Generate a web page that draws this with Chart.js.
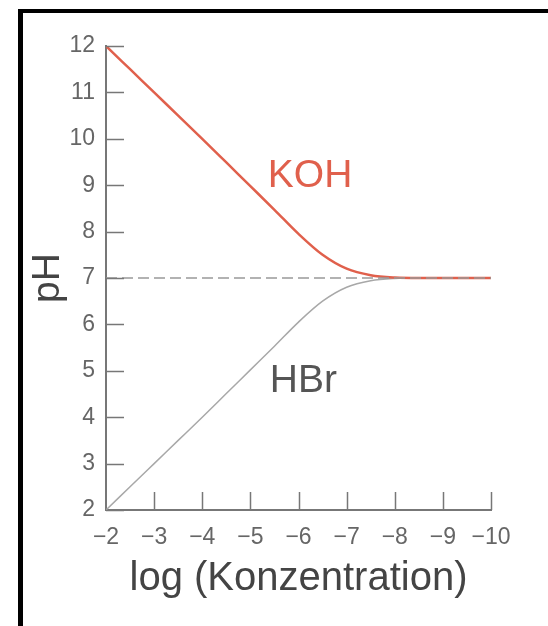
<!DOCTYPE html>
<html>
<head>
<meta charset="utf-8">
<script src="https://cdn.jsdelivr.net/npm/chart.js@4/dist/chart.umd.min.js"></script>
<style>
  html, body { margin: 0; padding: 0; background: #fff; }
  #wrap { position: relative; width: 548px; height: 626px; overflow: hidden; }
  #frameLeft { position: absolute; left: 18px; top: 9px; width: 5px; height: 617px; background: #000; }
  #frameTop { position: absolute; left: 18px; top: 9px; width: 530px; height: 4px; background: #000; }
</style>
</head>
<body>
<div id="wrap">
  <canvas id="phChart" width="548" height="626"></canvas>
  <div id="frameLeft"></div>
  <div id="frameTop"></div>
</div>
<script>
// log of the concentration (x axis, runs from -2 to -10)
var logConc = [-2, -2.5, -3, -3.5, -4, -4.5, -5, -5.5, -6, -6.5, -7, -7.5, -8, -8.5, -9, -9.5, -10];
// pH of the KOH solution
var kohPH = [12, 11.5, 11, 10.5, 10, 9.49, 8.98, 8.47, 7.95, 7.5, 7.2, 7.06, 7.01, 7.0, 7.0, 7.0, 7.0];
// pH of the HBr solution
var hbrPH = [2, 2.5, 3, 3.5, 4, 4.51, 5.02, 5.53, 6.05, 6.5, 6.8, 6.94, 6.99, 7.0, 7.0, 7.0, 7.0];
// neutral line
var neutralX = [-2, -10];
var neutralPH = [7, 7];

var yTicks = [2, 3, 4, 5, 6, 7, 8, 9, 10, 11, 12];

var RED = '#e0604c';
var GREY = '#555';
var FONT = '"Liberation Sans", Arial, sans-serif';

function toPoints(xs, ys) {
    return xs.map(function (x, i) { return { x: x, y: ys[i] }; });
}

// ticks pointing into the plot + the curve labels
var innerTicks = {
    id: 'innerTicks',
    afterDraw: function (chart) {
        var ctx = chart.ctx;
        var area = chart.chartArea;
        var xs = chart.scales.x, ys = chart.scales.y;
        ctx.save();
        ctx.strokeStyle = '#777';
        ctx.lineWidth = 1.5;
        ctx.beginPath();
        yTicks.forEach(function (v) {
            var py = Math.round(ys.getPixelForValue(v)) + 0.5;
            ctx.moveTo(area.left, py);
            ctx.lineTo(area.left + 18, py);
        });
        logConc.forEach(function (v) {
            if (v === -2 || v % 1 !== 0) return;
            var px = Math.round(xs.getPixelForValue(v)) + 0.5;
            ctx.moveTo(px, area.bottom);
            ctx.lineTo(px, area.bottom - 18);
        });
        ctx.stroke();

        ctx.font = '39px ' + FONT;
        ctx.textAlign = 'center';
        ctx.textBaseline = 'middle';
        ctx.fillStyle = RED;
        ctx.fillText('KOH', xs.getPixelForValue(-6.24), ys.getPixelForValue(9.19));
        ctx.fillStyle = GREY;
        ctx.fillText('HBr', xs.getPixelForValue(-6.1), ys.getPixelForValue(4.77));
        ctx.restore();
    }
};

new Chart(document.getElementById('phChart'), {
    type: 'line',
    data: {
        datasets: [
            {
                label: 'neutral',
                data: toPoints(neutralX, neutralPH),
                borderColor: '#999',
                borderWidth: 1.5,
                borderDash: [11, 5],
                pointRadius: 0
            },
            {
                label: 'KOH',
                data: toPoints(logConc, kohPH),
                borderColor: RED,
                borderWidth: 2.5,
                pointRadius: 0,
                cubicInterpolationMode: 'monotone'
            },
            {
                label: 'HBr',
                data: toPoints(logConc, hbrPH),
                borderColor: '#a8a8a8',
                borderWidth: 1.5,
                pointRadius: 0,
                cubicInterpolationMode: 'monotone'
            }
        ]
    },
    options: {
        responsive: false,
        animation: false,
        layout: { padding: { top: 46, right: 57, left: 0, bottom: 0 } },
        plugins: {
            legend: { display: false },
            tooltip: { enabled: false }
        },
        scales: {
            x: {
                type: 'linear',
                reverse: true,
                min: -10,
                max: -2,
                afterFit: function (scale) { scale.height = 116; },
                grid: { drawOnChartArea: false, drawTicks: false },
                border: { color: '#777', width: 2 },
                ticks: {
                    stepSize: 1,
                    padding: 14,
                    color: '#666',
                    font: { family: FONT, size: 23 },
                    callback: function (v) { return String(v).replace('-', '\u2212'); }
                },
                title: {
                    display: true,
                    text: 'log (Konzentration)',
                    color: '#444',
                    font: { family: FONT, size: 40 },
                    padding: { top: 0, bottom: 23 }
                }
            },
            y: {
                min: 2,
                max: 12,
                afterFit: function (scale) { scale.width = 106; },
                grid: { drawOnChartArea: false, drawTicks: false },
                border: { color: '#777', width: 2 },
                ticks: {
                    stepSize: 1,
                    padding: 11,
                    color: '#666',
                    font: { family: FONT, size: 23 }
                },
                title: {
                    display: true,
                    text: 'pH',
                    color: '#444',
                    font: { family: FONT, size: 39 },
                    padding: { top: 25, bottom: 0 }
                }
            }
        }
    },
    plugins: [innerTicks]
});
</script>
</body>
</html>
